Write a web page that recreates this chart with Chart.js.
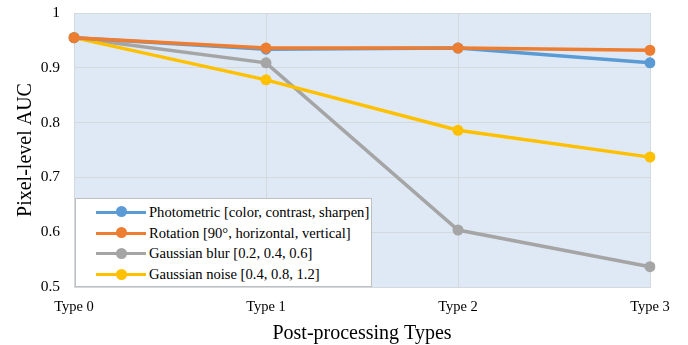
<!DOCTYPE html>
<html>
<head>
<meta charset="utf-8">
<script src="https://cdn.jsdelivr.net/npm/chart.js@4/dist/chart.umd.min.js"></script>
<style>
    html, body { margin: 0; padding: 0; background: #fff; }
    #wrap { position: relative; width: 688px; height: 345px; }
    #legenda {
        position: absolute; left: 75px; top: 198px; width: 297px; height: 89px;
        background: #fff; border: 1px solid #bfbfbf; box-sizing: border-box;
        font-family: "Liberation Serif", serif; font-size: 14.6px; color: #000;
        padding: 3px 0 0 20px; white-space: nowrap;
    }
    .item { height: 20.8px; display: flex; align-items: center; }
    .marca { position: relative; width: 50px; height: 12px; margin-right: 3px; flex: none; }
    .marca .linea { position: absolute; left: 0; right: 0; top: 4.5px; height: 3px; }
    .marca .punto { position: absolute; left: 20px; top: 0; width: 11px; height: 11px; border-radius: 50%; }
</style>
</head>
<body>
<div id="wrap">
    <canvas id="grafica" width="688" height="345"></canvas>
    <div id="legenda"></div>
</div>
<script>
const tipos = ['Type 0', 'Type 1', 'Type 2', 'Type 3'];
const nombres = [
    'Photometric [color, contrast, sharpen]',
    'Rotation [90°, horizontal, vertical]',
    'Gaussian blur [0.2, 0.4, 0.6]',
    'Gaussian noise [0.4, 0.8, 1.2]'
];
const fotometrico = [0.955, 0.934, 0.936, 0.909];
const rotacion = [0.955, 0.936, 0.936, 0.932];
const desenfoque = [0.955, 0.909, 0.604, 0.537];
const ruido = [0.955, 0.878, 0.786, 0.737];
const colores = ['#5b9bd5', '#ed7d31', '#a5a5a5', '#ffc000'];
const valores = [fotometrico, rotacion, desenfoque, ruido];

const fondo = {
    id: 'fondo',
    beforeDraw(chart) {
        const { ctx, chartArea: a } = chart;
        ctx.save();
        ctx.fillStyle = '#dee9f5';
        ctx.fillRect(a.left, a.top, a.right - a.left, a.bottom - a.top);
        ctx.restore();
    }
};

const ctx = document.getElementById('grafica').getContext('2d');
new Chart(ctx, {
    type: 'line',
    data: {
        labels: tipos,
        datasets: valores.map((v, i) => ({
            label: nombres[i],
            data: v,
            borderColor: colores[i],
            backgroundColor: colores[i],
            borderWidth: 3.5,
            pointRadius: 5.5,
            pointHoverRadius: 5.5,
            pointBorderWidth: 0,
            tension: 0,
            order: i === 1 ? 0 : (i === 0 ? 1 : 4 - i)
        }))
    },
    options: {
        responsive: false,
        animation: false,
        layout: { padding: { left: 0, right: 38, top: 13, bottom: 0 } },
        plugins: { legend: { display: false }, tooltip: { enabled: false } },
        scales: {
            x: {
                offset: false,
                grid: { color: '#d4d9de', drawTicks: false },
                border: { color: '#d4d9de' },
                ticks: { color: '#000', padding: 11, font: { family: 'Liberation Serif', size: 14.5 } },
                title: {
                    display: true, text: 'Post-processing Types', color: '#000',
                    font: { family: 'Liberation Serif', size: 20 }, padding: { top: 8, bottom: -1 }
                },
                afterFit(s) { s.height = 58; s.paddingLeft = 0; s.paddingRight = 0; }
            },
            y: {
                min: 0.5, max: 1,
                grid: { color: '#d4d9de', drawTicks: false },
                border: { color: '#d4d9de' },
                ticks: {
                    stepSize: 0.1, color: '#000', padding: 14,
                    font: { family: 'Liberation Serif', size: 15.5 },
                    callback: v => String(Math.round(v * 10) / 10)
                },
                title: {
                    display: true, text: 'Pixel-level AUC', color: '#000',
                    font: { family: 'Liberation Serif', size: 20 }, padding: { top: 14, bottom: 0 }
                },
                afterFit(s) { s.width = 74; s.paddingTop = 0; s.paddingBottom = 0; }
            }
        }
    },
    plugins: [fondo]
});

const legenda = document.getElementById('legenda');
nombres.forEach((n, i) => {
    const d = document.createElement('div');
    d.className = 'item';
    d.innerHTML = '<span class="marca"><span class="linea" style="background:' + colores[i] +
        '"></span><span class="punto" style="background:' + colores[i] + '"></span></span><span>' + n + '</span>';
    legenda.appendChild(d);
});
</script>
</body>
</html>
